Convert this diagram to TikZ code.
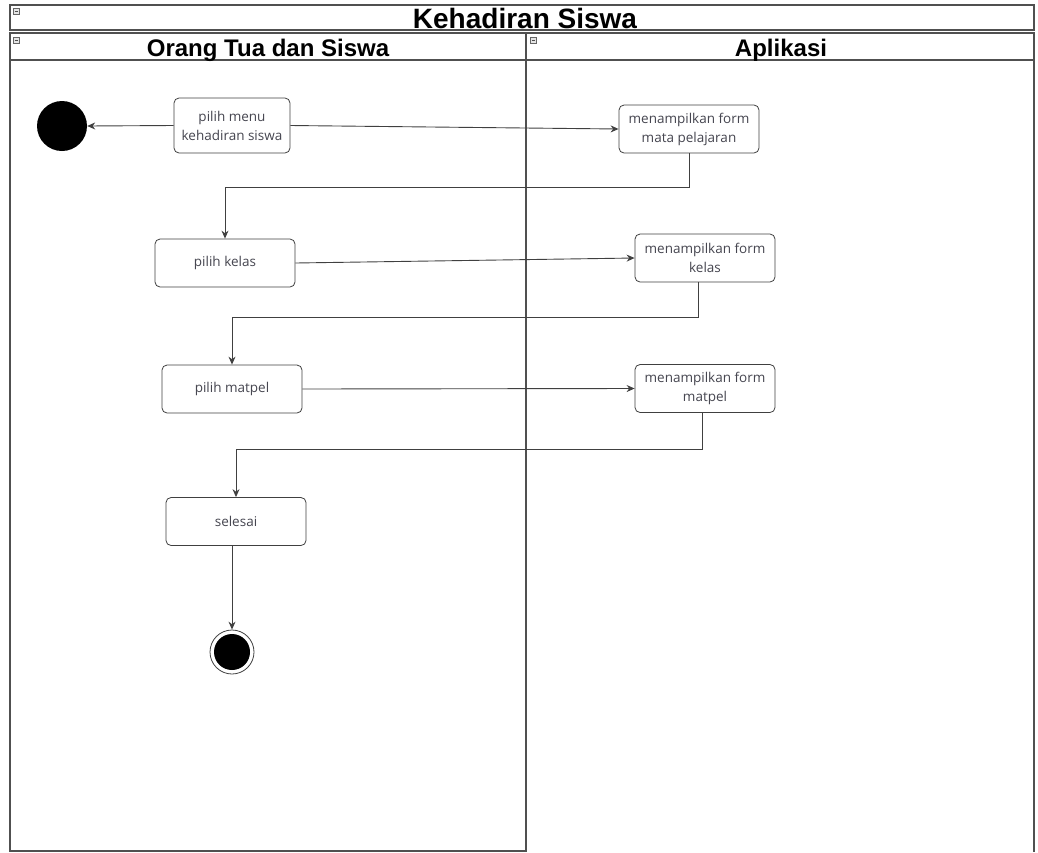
\documentclass[tikz,border=0pt]{standalone}
\usepackage{fontspec}
\setmainfont{Liberation Sans}
\newfontfamily\nodefont{Open Sans}
\usetikzlibrary{arrows.meta}
\definecolor{frame}{RGB}{80,80,80}
\definecolor{txt}{RGB}{70,70,80}
\tikzset{
  lane/.style={draw=frame, line width=1.4pt},
  act/.style={draw=black!75, line width=0.8pt, rounded corners=5pt, fill=white,
    minimum width=140pt, minimum height=48pt, align=center,
    font=\nodefont\fontsize{13.5}{19}\selectfont, text=txt, inner sep=1pt},
  arr/.style={draw=black!75, line width=0.9pt, -{Stealth[length=8pt,width=7pt]}},
  icon/.style={draw=black!60, line width=0.5pt, fill=black!10}
}
\begin{document}
\begin{tikzpicture}[x=1pt,y=-1pt]
\useasboundingbox (0,0) rectangle (1038,852);
% frames
\draw[lane] (10,5) rectangle (1034,30);
\draw[lane] (10,33) rectangle (526,851);
\draw[lane] (526,33) -- (1034,33) -- (1034,852);
\draw[lane] (10,60) -- (1034,60);
\node[anchor=base, inner sep=0pt] (title) at (525,28) {\fontsize{28}{30}\selectfont\bfseries Kehadiran Siswa};
\node[anchor=base, inner sep=0pt] (lane1) at (268,56.5) {\fontsize{24}{26}\selectfont\bfseries Orang Tua dan Siswa};
\node[anchor=base, inner sep=0pt] (lane2) at (781,56.5) {\fontsize{24}{26}\selectfont\bfseries Aplikasi};
% icons
\foreach \x/\y in {13/8, 13/37, 530/37}{
  \draw[icon] (\x,\y) rectangle ++(6,6);
  \draw[black!70, line width=0.4pt] (\x+1.5,\y+3) -- (\x+4.5,\y+3);
}
% nodes
\node[circle, fill=black, minimum size=50pt, inner sep=0pt] (start) at (62,126) {};
\node[act, minimum width=116pt, minimum height=55pt] (pm) at (232,125.5) {pilih menu\\kehadiran siswa};
\node[act, minimum width=140pt, minimum height=48pt] (mp) at (689,129) {menampilkan form\\mata pelajaran};
\node[act] (pk) at (225,263) {pilih kelas};
\node[act] (fk) at (705,258) {menampilkan form\\kelas};
\node[act] (pmt) at (232,389) {pilih matpel};
\node[act] (fm) at (705,388.5) {menampilkan form\\matpel};
\node[act] (sel) at (236,521.5) {selesai};
\node[circle, draw=black!75, line width=0.8pt, minimum size=44pt, inner sep=0pt] (end) at (232,652) {};
\node[circle, fill=black, minimum size=36pt, inner sep=0pt] (endin) at (232,652) {};
% connectors
\draw[arr] (pm.west) -- (start.east);
\draw[arr] (pm.east) -- (mp.west);
\draw[arr] (mp.south) |- (pk.north |- 0,187) -- (pk.north);
\draw[arr] (pk.east) -- (fk.west);
\draw[arr] ([xshift=-7pt]fk.south) |- (pmt.north |- 0,317) -- (pmt.north);
\draw[arr] (pmt.east) -- (fm.west);
\draw[arr] ([xshift=-3pt]fm.south) |- (sel.north |- 0,449) -- (sel.north);
\draw[arr] ([xshift=-4pt]sel.south) -- (end.north);
\end{tikzpicture}
\end{document}
